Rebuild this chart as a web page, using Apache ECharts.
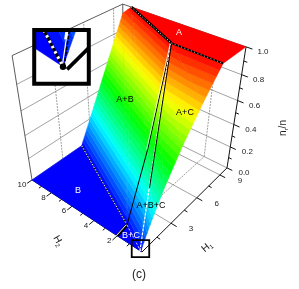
<!DOCTYPE html>
<html><head><meta charset="utf-8">
<style>html,body{margin:0;padding:0;background:#fff}#c{width:299px;height:289px}</style>
<script src="https://cdn.jsdelivr.net/npm/echarts@6/dist/echarts.min.js"></script>
</head><body><div id="c"></div>
<script>
// ---- data: points are [H1, H2, nr/n]
const h1Major = [3, 6, 9];
const h1Minor = [1.5, 4.5, 7.5];
const h2Major = [2, 4, 6, 8, 10];
const h2Minor = [1, 3, 5, 7, 9];
const nMajor = [0, 0.2, 0.4, 0.6, 0.8, 1.0];
const nMinor = [0.1, 0.3, 0.5, 0.7, 0.9];
const tip = [0, 0.1, 0];
const triple = [1.07, 2.1, 0];
const junction = [7.4, 3.8, 1];
const mid = [3.7, 2.6, 0.44];
const midRight = [3.26, 1.67, 0.44];
const onWall0 = [5, 10, 0];
const onWall1 = [10, 10, 0.93];
const topBack = [10, 9.2, 1];
const topFront = [7.3, 0, 1];
const acEdge = [tip, [0.72, 0, 0.18], [2, 0, 0.39], [3.66, 0, 0.613], [5.5, 0, 0.82], topFront];
const acInner = [tip, [1.33, 0.78, 0.18], [2.89, 1.56, 0.39], [4.54, 2.39, 0.613], [6.07, 3.14, 0.82], junction];
const floorB = [[0, 10, 0], onWall0, triple, [0, 2, 0]];
const floorBC = [[0, 2, 0], triple, tip];
const regionA = [topBack, [10, 0, 1], topFront, junction];
const abTris = [[triple, onWall0, onWall1], [triple, onWall1, topBack], [triple, topBack, mid], [mid, topBack, junction]];
const abcTris = [[tip, triple, mid], [tip, mid, midRight], [midRight, mid, junction]];
const regionLabels = [["A",179,33,"#fff"],["A+B",125,100,"#000"],["A+C",185,113,"#000"],["B",78,191,"#fff"],["A+B+C",151,206,"#000"],["B+C",131,236,"#fff"]];

// ---- projection of the 3D box
function project(p) {
  const u = p[0] / 10, v = p[1] / 10, w = p[2];
  const h = 1 + 0.2099 * u + 0.1634 * v - 0.1973 * w;
  return [(142 + 132.65 * u - 104.74 * v - 25.55 * w) / h, (252 - 48.9 * u - 42.65 * v - 155.67 * w) / h];
}
const BANDS = 32;
function rainbow(t) {
  const stops = [[0,0,255],[0,255,255],[0,255,0],[255,255,0],[255,0,0]];
  const s = Math.min(3.999, t * 4), i = Math.floor(s), f = s - i;
  const c = stops[i].map((a, k) => Math.round(a + (stops[i + 1][k] - a) * f));
  return `rgb(${c[0]},${c[1]},${c[2]})`;
}
function clipHalf(poly, fn) {
  const out = [];
  for (let i = 0; i < poly.length; i++) {
    const a = poly[i], b = poly[(i + 1) % poly.length], fa = fn(a), fb = fn(b);
    if (fa >= 0) out.push(a);
    if ((fa > 0 && fb < 0) || (fa < 0 && fb > 0)) {
      const t = fa / (fa - fb);
      out.push(a.map((x, k) => x + (b[k] - x) * t));
    }
  }
  return out;
}
const polys = [];
function addRegion(pts) {
  for (let i = 0; i < BANDS; i++) {
    const lo = i / BANDS, hi = (i + 1) / BANDS;
    let c = pts;
    if (i > 0) c = clipHalf(c, p => p[2] - lo);
    if (c.length && i < BANDS - 1) c = clipHalf(c, p => hi - p[2]);
    if (c.length >= 3) polys.push({ pts: c, color: rainbow((i + 0.5) / BANDS) });
  }
}
abTris.forEach(addRegion);
abcTris.forEach(addRegion);
for (let i = 0; i < acEdge.length - 1; i++) {
  addRegion([acEdge[i], acEdge[i + 1], acInner[i + 1]]);
  addRegion([acEdge[i], acInner[i + 1], acInner[i]]);
}
polys.push({ pts: floorB, color: "rgb(0,0,255)" });
polys.push({ pts: floorBC, color: "rgb(0,0,255)" });
polys.push({ pts: regionA, color: "rgb(255,0,0)" });

// ---- box and grid
const gridSegs = [];
const G = { color: "#7a7a7a", width: 0.7 }, GD = { color: "#777", width: 0.7, dash: [2, 1] }, E = { color: "#333", width: 0.8 };
[3, 6, 9].forEach(h => { gridSegs.push([[h, 10, 0], [h, 10, 1], GD], [[h, 0, 0], [h, 10, 0], G]); });
[2, 4, 6, 8].forEach(h => { gridSegs.push([[10, h, 0], [10, h, 1], GD], [[0, h, 0], [10, h, 0], GD]); });
[0.2, 0.4, 0.6, 0.8].forEach(n => { gridSegs.push([[0, 10, n], [10, 10, n], G], [[10, 0, n], [10, 10, n], G]); });
gridSegs.push([[0, 10, 0], [0, 10, 1], E], [[0, 10, 1], [10, 10, 1], E], [[10, 10, 1], [10, 0, 1], E], [[10, 10, 0], [10, 10, 1], E], [[10, 0, 0], [10, 10, 0], G], [[0, 10, 0], [10, 10, 0], G]);
const AX = { color: "#111", width: 1 };
gridSegs.push([[0, 0, 0], [0, 10, 0], AX], [[0, 0, 0], [10, 0, 0], AX], [[10, 0, 0], [10, 0, 1], AX]);
h1Major.forEach(h => gridSegs.push([[h, 0, 0], [h, -0.45, 0], AX]));
h1Minor.forEach(h => gridSegs.push([[h, 0, 0], [h, -0.25, 0], AX]));
h2Major.forEach(h => gridSegs.push([[0, h, 0], [-0.45, h, 0], AX]));
h2Minor.forEach(h => gridSegs.push([[0, h, 0], [-0.25, h, 0], AX]));
nMajor.forEach(n => gridSegs.push([[10, 0, n], [10, -0.45, n], AX]));
nMinor.forEach(n => gridSegs.push([[10, 0, n], [10, -0.25, n], AX]));

// ---- boundary lines on the surface
const W = (w, d, ox) => ({ color: "#fff", width: w, dash: d, ox: ox || 0 });
const K = (w, d, ox) => ({ color: "#000", width: w, dash: d, ox: ox || 0 });
const surfaceSegs = [
  [onWall0, triple, K(1, null)], [onWall0, triple, W(1, [1.5, 1.5])],
  [[0, 2, 0], triple, K(3, null)], [[0, 2, 0], triple, W(1, null, -1)],
  [triple, tip, W(0.8, [2, 2])],
  [triple, mid, K(1, null)], [mid, junction, K(1, null)], [mid, junction, W(0.8, null, -1)],
  [tip, junction, W(1.2, [3, 1], -0.8)], [[2.2, 1.25, 0.3], junction, K(1, null, 0.2)],
  [topBack, junction, K(2.6, null)], [topBack, junction, W(1, [1, 2])],
  [junction, topFront, K(1.8, null)], [junction, topFront, W(0.8, [1, 2.5])]
];
const insetSegs = [
  [[10, 0, 0], [0, 0, 0], K(3.6, null)],
  [triple, tip, K(3, null)], [triple, tip, W(3, [2.5, 3.5])],
  [tip, [0.3, 0.25, 0.04], W(1.2, null, -0.8)],
  [[0.3, 0.25, 0.04], junction, W(3.4, null, -1.2)],
  [tip, junction, K(1.6, [4, 1.5], 1)]
];

// ---- inset view: magnified corner around the tip
const box = { x0: 34.2, y0: 30, x1: 88.8, y1: 83.8 };
const tipPx = project(tip), M = 3.2, insetTip = [63, 66.7];
const toInset = q => [insetTip[0] + M * (q[0] - tipPx[0]), insetTip[1] + M * (q[1] - tipPx[1])];
const clipBox = poly => {
  let c = poly;
  [q => q[0] - box.x0, q => box.x1 - q[0], q => q[1] - box.y0, q => box.y1 - q[1]].forEach(f => { if (c.length) c = clipHalf(c, f); });
  return c;
};
const rows = n => Array.from({ length: n }, (_, i) => [i]);

function lineEl(api, a, b, st) {
  const ox = st.ox || 0;
  const p = api.coord([a[0] + ox, a[1]]), q = api.coord([b[0] + ox, b[1]]);
  return { type: "line", shape: { x1: p[0], y1: p[1], x2: q[0], y2: q[1] },
    style: { stroke: st.color, lineWidth: st.width, lineDash: st.dash || null, fill: null } };
}
function polyEl(api, pts, color) {
  return { type: "polygon", shape: { points: pts.map(q => api.coord(q)) },
    style: { fill: color, stroke: color, lineWidth: 0.5 } };
}
function segSeries(segs, z) {
  return { type: "custom", coordinateSystem: "cartesian2d", silent: true, z, clip: false, data: rows(segs.length),
    renderItem: (pm, api) => { const s = segs[api.value(0)]; return lineEl(api, project(s[0]), project(s[1]), s[2]); } };
}
const tickLabels = [];
nMajor.forEach(n => tickLabels.push([n.toFixed(1), [10, 0, n], 17, 5]));
h1Major.forEach(h => tickLabels.push([String(h), [h, 0, 0], 20, 6]));
h2Major.forEach(h => tickLabels.push([String(h), [0, h, 0], h === 10 ? -10 : -8, 5]));

const option = {
  animation: false,
  grid: { left: 0, right: 0, top: 0, bottom: 0 },
  xAxis: { type: "value", min: 0, max: 299, show: false },
  yAxis: { type: "value", min: 0, max: 289, inverse: true, show: false },
  graphic: [
    ...regionLabels.map(l => ({ type: "text", x: l[1], y: l[2], silent: true, z: 50,
      style: { text: l[0], fill: l[3], font: "9px 'Liberation Sans'", align: "center", verticalAlign: "middle" } })),
    { type: "text", x: 139, y: 275, silent: true, z: 50, style: { text: "(c)", fill: "#222", font: "12px 'Liberation Sans'", align: "center", verticalAlign: "middle" } },
    { type: "text", x: 283, y: 128, rotation: Math.PI / 2, silent: true, z: 50,
      style: { text: "{n|n}{s|r}{n|/n}", align: "center", verticalAlign: "middle", fill: "#222",
        rich: { n: { font: "10px 'Liberation Sans'", fill: "#222" }, s: { font: "6px 'Liberation Sans'", fill: "#222", verticalAlign: "bottom", padding: [6, 0, 0, 0] } } } },
    { type: "text", x: 58, y: 241, rotation: -1.05, silent: true, z: 50,
      style: { text: "{n|H}{s|2}", align: "center", verticalAlign: "middle",
        rich: { n: { font: "10px 'Liberation Sans'", fill: "#222" }, s: { font: "6px 'Liberation Sans'", fill: "#222", padding: [6, 0, 0, 0] } } } },
    { type: "text", x: 207, y: 247, rotation: 0.7, silent: true, z: 50,
      style: { text: "{n|H}{s|1}", align: "center", verticalAlign: "middle",
        rich: { n: { font: "10px 'Liberation Sans'", fill: "#222" }, s: { font: "6px 'Liberation Sans'", fill: "#222", padding: [6, 0, 0, 0] } } } }
  ],
  series: [
    segSeries(gridSegs, 1),
    { type: "custom", coordinateSystem: "cartesian2d", silent: true, z: 2, clip: false, data: rows(polys.length),
      renderItem: (pm, api) => { const s = polys[api.value(0)]; return polyEl(api, s.pts.map(project), s.color); } },
    segSeries(surfaceSegs, 3),
    { type: "custom", coordinateSystem: "cartesian2d", silent: true, z: 4, clip: false, data: rows(tickLabels.length),
      renderItem: (pm, api) => {
        const t = tickLabels[api.value(0)], q = project(t[1]), c = api.coord([q[0] + t[2], q[1] + t[3]]);
        return { type: "text", x: c[0], y: c[1], style: { text: t[0], fill: "#222", font: "8px 'Liberation Sans'", align: "center", verticalAlign: "middle" } };
      } },
    // inset
    { type: "custom", coordinateSystem: "cartesian2d", silent: true, z: 5, clip: false, data: [[0]],
      renderItem: (pm, api) => {
        const a = api.coord([box.x0, box.y0]);
        return { type: "rect", shape: { x: a[0], y: a[1], width: box.x1 - box.x0, height: box.y1 - box.y0 }, style: { fill: "#fff" } };
      } },
    { type: "custom", coordinateSystem: "cartesian2d", silent: true, z: 6, clip: false, data: rows(polys.length),
      renderItem: (pm, api) => {
        const s = polys[api.value(0)], c = clipBox(s.pts.map(p => toInset(project(p))));
        return c.length >= 3 ? polyEl(api, c, s.color) : null;
      } },
    { type: "custom", coordinateSystem: "cartesian2d", silent: true, z: 7, clip: false, data: rows(insetSegs.length),
      renderItem: (pm, api) => {
        const s = insetSegs[api.value(0)], a = toInset(project(s[0])), b = toInset(project(s[1]));
        const f = [q => q[0] - box.x0, q => box.x1 - q[0], q => q[1] - box.y0, q => box.y1 - q[1]];
        let p = a, q = b;
        for (const fn of f) {
          const fa = fn(p), fb = fn(q);
          if (fa < 0 && fb < 0) return null;
          if (fa < 0) p = p.map((x, k) => x + (q[k] - x) * fa / (fa - fb));
          else if (fb < 0) q = q.map((x, k) => x + (p[k] - x) * fb / (fb - fa));
        }
        return lineEl(api, p, q, s[2]);
      } },
    { type: "custom", coordinateSystem: "cartesian2d", silent: true, z: 8, clip: false, data: [[0]],
      renderItem: (pm, api) => {
        const c = api.coord(insetTip), a = api.coord([box.x0, box.y0]);
        const t = api.coord([tipPx[0] - 9, tipPx[1] - 11]);
        return { type: "group", children: [
          { type: "circle", shape: { cx: c[0], cy: c[1], r: 3.2 }, style: { fill: "#000" } },
          { type: "rect", shape: { x: a[0], y: a[1], width: box.x1 - box.x0, height: box.y1 - box.y0 }, style: { fill: null, stroke: "#000", lineWidth: 4 } },
          { type: "rect", shape: { x: t[0], y: t[1], width: 17.5, height: 17 }, style: { fill: null, stroke: "#000", lineWidth: 1.8 } }
        ] };
      } }
  ]
};
const chart = echarts.init(document.getElementById("c"), null, { renderer: "canvas", width: 299, height: 289 });
chart.setOption(option);
</script></body></html>
